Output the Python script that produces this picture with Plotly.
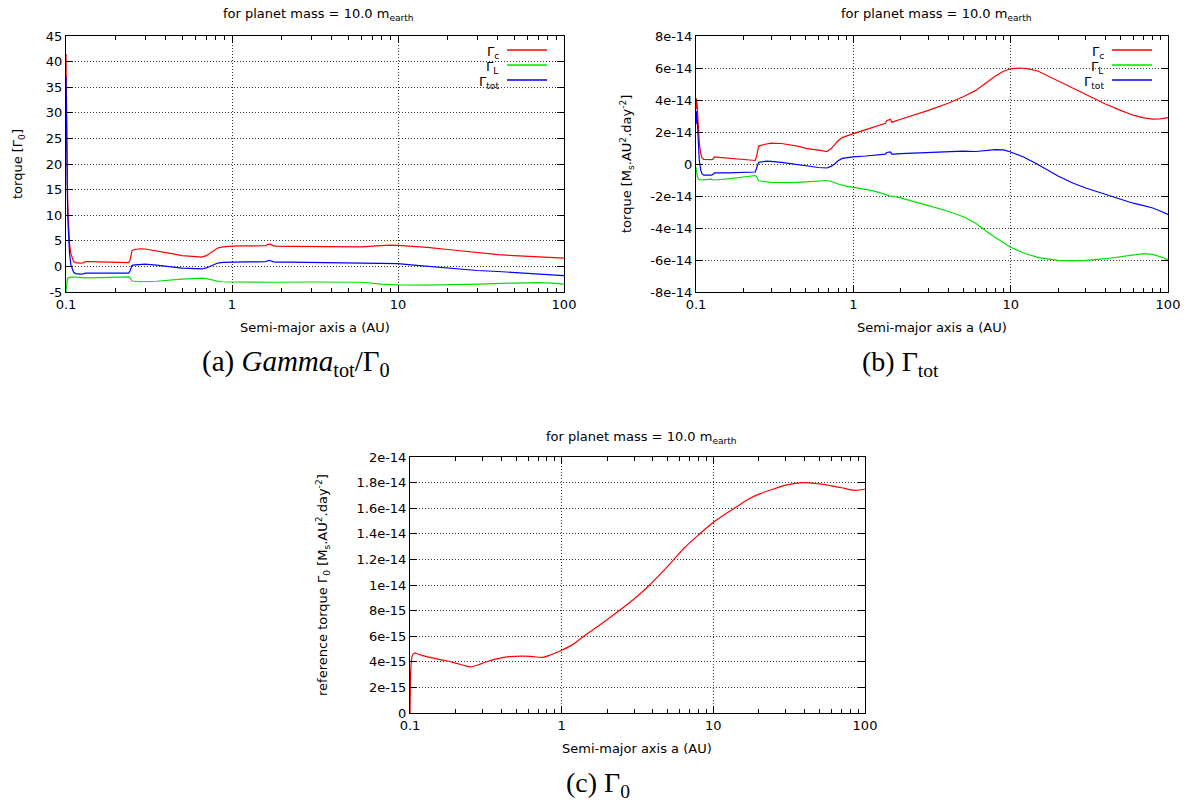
import plotly.graph_objects as go

W, H = 1187, 804

# ---------------- data ----------------
# (a) torques normalised by Gamma_0
xa_c = [0.1, 0.1005, 0.101, 0.102, 0.103, 0.104, 0.105, 0.107, 0.109, 0.111, 0.114, 0.118, 0.122, 0.127,
        0.129, 0.131, 0.14, 0.16, 0.18, 0.2, 0.22, 0.238, 0.243, 0.247, 0.25, 0.26, 0.28, 0.3, 0.35, 0.4,
        0.45, 0.5, 0.55, 0.6, 0.66, 0.7, 0.74, 0.78, 0.82, 0.88, 0.95, 1.0, 1.2, 1.4, 1.6, 1.65, 1.72,
        1.78, 1.85, 2.2, 3, 4, 5, 6, 7, 8, 9, 10, 12, 15, 20, 30, 40, 50, 70, 100]
ya_c = [41.5, 30, 22, 15, 10, 6.5, 4.5, 2.5, 1.5, 1.0, 0.75, 0.65, 0.65, 0.7,
        0.75, 0.95, 0.95, 0.9, 0.85, 0.8, 0.75, 0.72, 1.2, 2.6, 3.1, 3.3, 3.45, 3.4, 3.1, 2.7,
        2.4, 2.1, 2.0, 1.95, 1.8, 2.1, 2.6, 3.2, 3.6, 3.8, 3.9, 3.95, 4.0, 4.0, 4.05, 4.35, 4.3,
        4.0, 3.95, 3.9, 3.85, 3.8, 3.8, 3.8, 3.95, 4.1, 4.15, 4.1, 3.95, 3.7, 3.3, 2.7, 2.3, 2.1, 1.8, 1.6]

xa_t = xa_c
ya_t = [37, 27, 20, 13, 8, 4.5, 2.5, 0.3, -0.6, -1.1, -1.4, -1.5, -1.5, -1.45,
        -1.4, -1.3, -1.3, -1.3, -1.3, -1.3, -1.3, -1.3, -0.9, 0.0, 0.2, 0.3, 0.45, 0.45, 0.25, 0.0,
        -0.2, -0.35, -0.4, -0.45, -0.5, -0.3, 0.0, 0.4, 0.65, 0.8, 0.85, 0.85, 0.9, 0.9, 0.95, 1.15, 1.1,
        0.9, 0.85, 0.85, 0.8, 0.75, 0.7, 0.7, 0.65, 0.65, 0.6, 0.55, 0.3, 0.0, -0.4, -0.8, -1.0, -1.2, -1.5, -1.8]

xa_l = [0.1, 0.1005, 0.101, 0.102, 0.104, 0.107, 0.115, 0.127, 0.129, 0.131, 0.16, 0.2, 0.238, 0.243,
        0.247, 0.25, 0.28, 0.35, 0.5, 0.6, 0.66, 0.7, 0.78, 0.85, 1.0, 1.6, 1.7, 1.8, 3, 5, 6, 8, 10,
        15, 20, 30, 50, 70, 85, 100]
ya_l = [-5, -3.8, -2.9, -2.4, -2.2, -2.1, -2.1, -2.15, -2.2, -2.25, -2.2, -2.1, -2.05, -2.2,
        -2.7, -2.85, -3.0, -2.9, -2.5, -2.35, -2.3, -2.4, -2.8, -3.0, -3.05, -3.1, -3.2, -3.1, -3.05, -3.0,
        -3.1, -3.45, -3.6, -3.65, -3.6, -3.45, -3.25, -3.15, -3.25, -3.45]

# (b) torques in units of 1e-14 Ms.AU^2.day^-2
UNIT_B = 1e-14
xb_c = [0.1, 0.1005, 0.101, 0.102, 0.103, 0.104, 0.105, 0.107, 0.109, 0.112, 0.118, 0.125, 0.128, 0.131,
        0.14, 0.16, 0.2, 0.238, 0.243, 0.247, 0.25, 0.27, 0.3, 0.35, 0.4, 0.45, 0.5, 0.55, 0.6, 0.68,
        0.72, 0.76, 0.8, 0.85, 0.9, 1.0, 1.2, 1.4, 1.6, 1.63, 1.72, 1.76, 1.8, 2, 2.5, 3, 4, 5, 6, 7,
        8, 9, 10, 11.5, 13, 15, 20, 25, 30, 40, 50, 60, 70, 80, 90, 100]
yb_c = [3.4, 4.1, 4.0, 3.5, 2.6, 1.9, 1.3, 0.7, 0.4, 0.28, 0.26, 0.27, 0.3, 0.45,
        0.42, 0.37, 0.3, 0.22, 0.5, 1.0, 1.12, 1.22, 1.3, 1.28, 1.2, 1.1, 0.98, 0.9, 0.87, 0.78,
        0.95, 1.2, 1.45, 1.65, 1.75, 1.9, 2.15, 2.35, 2.55, 2.7, 2.8, 2.6, 2.65, 2.8, 3.1, 3.35, 3.8, 4.2, 4.6, 5.1,
        5.5, 5.8, 5.95, 6.0, 5.95, 5.8, 5.2, 4.75, 4.35, 3.75, 3.35, 3.05, 2.88, 2.8, 2.82, 2.9]

xb_t = [0.1, 0.1005, 0.101, 0.102, 0.103, 0.104, 0.105, 0.107, 0.109, 0.112, 0.118, 0.125, 0.128, 0.131,
        0.16, 0.2, 0.238, 0.243, 0.247, 0.25, 0.28, 0.3, 0.35, 0.4, 0.45, 0.5, 0.55, 0.6, 0.68,
        0.72, 0.76, 0.8, 0.85, 0.9, 1.0, 1.2, 1.4, 1.6, 1.63, 1.72, 1.76, 1.8, 2, 3, 4, 5, 6, 7,
        8, 9, 10, 12, 15, 20, 25, 30, 40, 50, 60, 70, 80, 90, 100]
yb_t = [2.5, 3.3, 3.2, 2.6, 1.6, 0.8, 0.2, -0.35, -0.6, -0.7, -0.72, -0.7, -0.65, -0.55,
        -0.55, -0.5, -0.5, -0.25, 0.05, 0.1, 0.18, 0.17, 0.1, 0.02, -0.08, -0.15, -0.2, -0.22, -0.25,
        -0.15, 0.0, 0.2, 0.35, 0.4, 0.45, 0.5, 0.55, 0.62, 0.72, 0.75, 0.6, 0.62, 0.65, 0.72, 0.78, 0.8, 0.78, 0.82,
        0.9, 0.88, 0.75, 0.45, -0.05, -0.75, -1.2, -1.5, -1.9, -2.2, -2.45, -2.6, -2.75, -2.95, -3.15]

xb_l = [0.1, 0.1005, 0.101, 0.102, 0.104, 0.107, 0.115, 0.125, 0.128, 0.131, 0.16, 0.2, 0.238, 0.243,
        0.247, 0.25, 0.3, 0.35, 0.4, 0.5, 0.6, 0.68, 0.72, 0.8, 0.9, 1.0, 1.3, 1.6, 1.7, 1.8, 2, 3, 4,
        5, 6, 7, 8, 10, 12, 15, 20, 25, 30, 40, 50, 60, 70, 80, 90, 100]
yb_l = [-0.2, -0.4, -0.6, -0.8, -0.95, -1.0, -0.98, -0.95, -1.0, -1.0, -0.93, -0.82, -0.72, -0.8,
        -1.0, -1.05, -1.15, -1.18, -1.17, -1.12, -1.07, -1.03, -1.08, -1.25, -1.38, -1.45, -1.65, -1.9, -2.0, -2.02, -2.12, -2.6, -2.95,
        -3.3, -3.7, -4.2, -4.6, -5.2, -5.55, -5.85, -6.02, -6.05, -6.02, -5.92, -5.8, -5.68, -5.6, -5.65, -5.8, -6.0]

# (c) reference torque Gamma_0 in units of 1e-15
UNIT_C = 1e-15
xc = [0.1, 0.1005, 0.101, 0.102, 0.103, 0.105, 0.108, 0.11, 0.12, 0.14, 0.17, 0.2, 0.23, 0.25, 0.28,
      0.32, 0.38, 0.45, 0.55, 0.65, 0.75, 0.85, 1.0, 1.2, 1.4, 1.7, 2.0, 2.4, 3.0, 3.8, 4.6, 5.5, 6.5,
      7.8, 9.0, 10, 12, 14, 17, 20, 25, 30, 39, 50, 60, 70, 85, 95, 100]
yc = [0, 2.0, 3.2, 4.0, 4.4, 4.6, 4.7, 4.65, 4.5, 4.3, 4.1, 3.9, 3.7, 3.6, 3.75,
      4.0, 4.25, 4.4, 4.45, 4.4, 4.35, 4.55, 4.9, 5.4, 6.0, 6.7, 7.3, 8.0, 8.9, 10.0, 11.0, 12.0, 12.95,
      13.8, 14.45, 14.9, 15.55, 16.05, 16.7, 17.1, 17.5, 17.8, 18.0, 17.9, 17.75, 17.6, 17.4, 17.45, 17.5]

X_TICKS = [0.1, 1, 10, 100]
X_TICKTEXT = ["0.1", "1", "10", "100"]
X_MINOR = [m * d for d in (0.1, 1, 10) for m in range(2, 10)]

YA_TICKS = list(range(-5, 46, 5))
YA_TEXT = [str(v) for v in YA_TICKS]
YB_TICKS = [v * 2e-14 for v in range(-4, 5)]
YB_TEXT = ["-8e-14", "-6e-14", "-4e-14", "-2e-14", "0", "2e-14", "4e-14", "6e-14", "8e-14"]
YC_TICKS = [v * 2e-15 for v in range(0, 11)]
YC_TEXT = ["0", "2e-15", "4e-15", "6e-15", "8e-15", "1e-14", "1.2e-14", "1.4e-14", "1.6e-14", "1.8e-14", "2e-14"]

LEGEND = ["Γ<sub>c</sub>", "Γ<sub>L</sub>", "Γ<sub>tot</sub>"]
COLORS = ["#ff0000", "#00e000", "#0000ff"]

TITLE = "for planet mass = 10.0 m<sub>earth</sub>"
XLABEL = "Semi-major axis a (AU)"

# ---------------- figure ----------------
FONT = "DejaVu Sans"
FS = 13


def px(x):
    return x / W


def py(y):
    return 1 - y / H


fig = go.Figure()


def add(x, y, color, xa, ya, scale=1.0, shape="linear", smoothing=0.6):
    fig.add_trace(go.Scatter(x=x, y=[v * scale for v in y], mode="lines",
                             line=dict(color=color, width=1.2, shape=shape, smoothing=smoothing),
                             xaxis=xa, yaxis=ya, showlegend=False, hoverinfo="skip"))


add(xa_c, ya_c, COLORS[0], "x", "y")
add(xa_l, ya_l, COLORS[1], "x", "y")
add(xa_t, ya_t, COLORS[2], "x", "y")
add(xb_c, yb_c, COLORS[0], "x2", "y2", UNIT_B)
add(xb_l, yb_l, COLORS[1], "x2", "y2", UNIT_B)
add(xb_t, yb_t, COLORS[2], "x2", "y2", UNIT_B)
add(xc, yc, COLORS[0], "x3", "y3", UNIT_C, shape="spline", smoothing=0.9)

common = dict(ticks="inside", ticklen=7, tickcolor="black", tickwidth=1,
              showline=True, linecolor="black", linewidth=1, mirror="allticks",
              showgrid=True, gridcolor="#333333", griddash="1px,2px", gridwidth=1,
              zeroline=False, automargin=False,
              tickfont=dict(family=FONT, size=FS, color="black"))


def xax(l, r, anchor):
    return dict(domain=[px(l), px(r)], anchor=anchor, type="log", range=[-1, 2],
                tickmode="array", tickvals=X_TICKS, ticktext=X_TICKTEXT,
                minor=dict(tickmode="array", tickvals=X_MINOR, ticks="inside", ticklen=4,
                           tickcolor="black", showgrid=False),
                **common)


def yax(t, b, anchor, rng, vals, text):
    return dict(domain=[py(b), py(t)], anchor=anchor, range=rng,
                tickmode="array", tickvals=vals, ticktext=text, **common)


fig.update_layout(
    width=W, height=H, margin=dict(l=0, r=0, t=0, b=0, pad=0, autoexpand=False),
    paper_bgcolor="white", plot_bgcolor="white",
    xaxis=xax(66, 564, "y"),
    yaxis=yax(36, 292, "x", [-5, 45], YA_TICKS, YA_TEXT),
    xaxis2=xax(696, 1168, "y2"),
    yaxis2=yax(36, 292, "x2", [-8e-14, 8e-14], YB_TICKS, YB_TEXT),
    xaxis3=xax(410, 865, "y3"),
    yaxis3=yax(457, 713, "x3", [0, 2e-14], YC_TICKS, YC_TEXT),
)

ann = []


def text(x, y, s, size=FS, family=FONT, angle=0, xanchor="center"):
    ann.append(dict(x=px(x), y=py(y), xref="paper", yref="paper", text=s, showarrow=False,
                    xanchor=xanchor, yanchor="middle", textangle=angle,
                    font=dict(family=family, size=size, color="black")))


# titles
text(318, 15, TITLE)
text(936, 15, TITLE)
text(641, 437, TITLE)
# x labels
text(315, 328, XLABEL)
text(932, 328, XLABEL)
text(637, 748, XLABEL)
# y labels
text(19, 164, "torque [Γ<sub>0</sub>]", angle=-90)
text(627, 164, "torque [M<sub>s</sub>.AU<sup>2</sup>.day<sup>-2</sup>]", angle=-90)
text(323, 585, "reference torque Γ<sub>0</sub> [M<sub>s</sub>.AU<sup>2</sup>.day<sup>-2</sup>]", angle=-90)
# captions
CAP = "Liberation Serif"
text(296, 363, "(a) <i>Gamma</i><sub>tot</sub>/Γ<sub>0</sub>", size=29, family=CAP)
text(900, 363, "(b) Γ<sub>tot</sub>", size=28, family=CAP)
text(598, 784, "(c) Γ<sub>0</sub>", size=28, family=CAP)

shapes = []
# legends (gnuplot style: label, then line sample)
for (box_l, box_r, tx, l0, l1) in [(479, 562, 501, 507, 547), (1084, 1166, 1106, 1112, 1152)]:
    shapes.append(dict(type="rect", xref="paper", yref="paper", x0=px(box_l), x1=px(box_r),
                       y0=py(90), y1=py(41), fillcolor="white", line=dict(width=0), layer="between"))
    for i, (lab, col) in enumerate(zip(LEGEND, COLORS)):
        yy = 50 + 15 * i
        text(tx, yy + 2, lab, xanchor="right")
        shapes.append(dict(type="line", xref="paper", yref="paper", x0=px(l0), x1=px(l1),
                           y0=py(yy), y1=py(yy), line=dict(color=col, width=1.5)))

fig.update_layout(annotations=ann, shapes=shapes)
fig.write_html("out.html", config={"displayModeBar": False},
               post_script="document.body.style.margin='0';document.body.style.overflow='hidden';")
